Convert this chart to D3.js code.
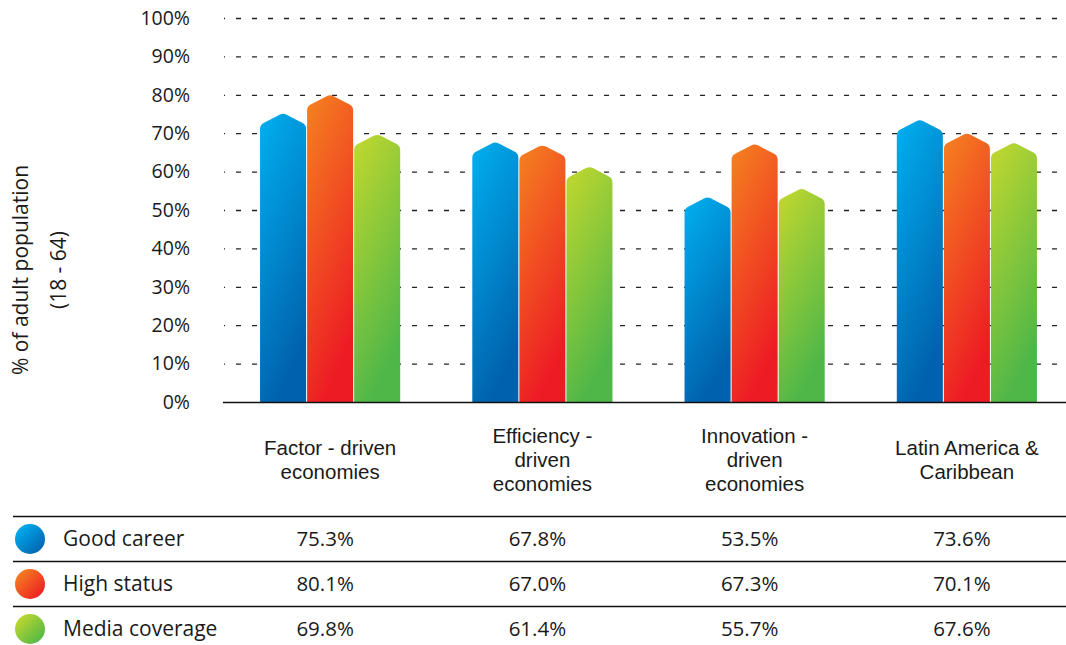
<!DOCTYPE html>
<html><head><meta charset="utf-8">
<script src="https://cdn.jsdelivr.net/npm/d3@7"></script>
<style>
body{margin:0;background:#fff;}
text{font-family:"Open Sans","Noto Sans",sans-serif;fill:#1a1a1a;}
text.cat{font-family:"Liberation Sans",Arial,sans-serif;}
</style></head>
<body><svg id="chart" width="1066" height="645"></svg>
<script>
const categories = [["Factor - driven","economies"],["Efficiency -","driven","economies"],["Innovation -","driven","economies"],["Latin America &","Caribbean"]];
const categoryKeys = ["Factor","Efficiency","Innovation","Latin"];
const series = ["Good career","High status","Media coverage"];
const goodCareer = [75.3, 67.8, 53.5, 73.6];
const highStatus = [80.1, 67.0, 67.3, 70.1];
const mediaCoverage = [69.8, 61.4, 55.7, 67.6];
const yTicks = [0,10,20,30,40,50,60,70,80,90,100];
const tableLabels = [["75.3%","67.8%","53.5%","73.6%"],["80.1%","67.0%","67.3%","70.1%"],["69.8%","61.4%","55.7%","67.6%"]];
const values = [goodCareer, highStatus, mediaCoverage];
const gradColors = [["#00b0ef","#0062ae"],["#f58220","#ed1c24"],["#c3d82e","#4fb748"]];

const svg = d3.select("#chart");
const defs = svg.append("defs");
gradColors.forEach((c,i)=>{
  const g = defs.append("linearGradient").attr("id","g"+i)
    .attr("x1",0).attr("y1",0).attr("x2",0.35).attr("y2",1);
  g.append("stop").attr("offset","0%").attr("stop-color",c[0]);
  g.append("stop").attr("offset","100%").attr("stop-color",c[1]);
  const gc = defs.append("linearGradient").attr("id","c"+i)
    .attr("x1",0.1).attr("y1",0.1).attr("x2",0.9).attr("y2",0.9);
  gc.append("stop").attr("offset","0%").attr("stop-color",c[0]);
  gc.append("stop").attr("offset","100%").attr("stop-color",c[1]);
});

const y = d3.scaleLinear().domain([0,100]).range([402,18]);
const x0 = d3.scaleBand().domain(categoryKeys).range([224,1073]).paddingInner(0.335).paddingOuter(0.1675);
const x1 = d3.scaleBand().domain(series).range([0, x0.bandwidth()]);

// gridlines
svg.append("g").selectAll("line").data(yTicks.filter(d=>d>0)).join("line")
  .attr("x1",224).attr("x2",1066).attr("y1",d=>y(d)+0.5).attr("y2",d=>y(d)+0.5)
  .attr("stroke","#222").attr("stroke-width",1.3).attr("stroke-dasharray","5,11").attr("stroke-dashoffset",4);

// y axis labels
const yAxis = d3.axisLeft(y).tickValues(yTicks).tickFormat(d=>d+"%").tickSize(0).tickPadding(0);
const ya = svg.append("g").attr("transform","translate(190,0)").call(yAxis);
ya.select(".domain").remove();
ya.selectAll("text").style("font-size","19.5px").style("fill","#1a1a1a").style("font-family","'Open Sans',sans-serif");

// bars
function roofPath(L,R,A,B){
  const h=12, r=4, M=(L+R)/2, S=A+h;
  const dx=M-L, dy=h, len=Math.hypot(dx,dy), ux=dx/len, uy=dy/len;
  return `M${L},${B} L${L},${S+r} Q${L},${S} ${L+ux*r},${S-uy*r} `+
    `L${M-ux*r},${A+uy*r} Q${M},${A} ${M+ux*r},${A+uy*r} `+
    `L${R-ux*r},${S-uy*r} Q${R},${S} ${R},${S+r} L${R},${B} Z`;
}
const groups = svg.append("g").selectAll("g").data(categoryKeys).join("g")
  .attr("transform",d=>`translate(${x0(d)},0)`);
groups.selectAll("path").data((d,ci)=>series.map((s,si)=>({s,si,v:values[si][ci]}))).join("path")
  .attr("d",d=>roofPath(x1(d.s)+0.5, x1(d.s)+x1.bandwidth()-0.5, y(d.v), y(0)))
  .attr("fill",d=>`url(#g${d.si})`);

// baseline
svg.append("line").attr("x1",223).attr("x2",1066).attr("y1",402.5).attr("y2",402.5)
  .attr("stroke","#111").attr("stroke-width",1.6);

// y title
const yt = svg.append("text").attr("transform","translate(0,270) rotate(-90)")
  .attr("text-anchor","middle").style("font-size","21px");
yt.append("tspan").attr("x",0).attr("y",28).text("% of adult population");
yt.append("tspan").attr("x",0).attr("y",66).text("(18 - 64)");

// category labels
categoryKeys.forEach((k,i)=>{
  const lines = categories[i];
  const startY = lines.length===3 ? 443 : 455;
  lines.forEach((l,j)=>svg.append("text").attr("class","cat").attr("text-anchor","middle").style("font-size","20.5px")
    .attr("x",x0(k)+x0.bandwidth()/2).attr("y",startY+j*24).text(l));
});

// table
const rowY = [539,584,629];
[516,561,606].forEach(ly=>svg.append("line").attr("x1",13).attr("x2",1066).attr("y1",ly+0.5).attr("y2",ly+0.5).attr("stroke","#111").attr("stroke-width",1.3));
series.forEach((s,si)=>{
  svg.append("circle").attr("cx",30).attr("cy",rowY[si]).attr("r",15).attr("fill",`url(#c${si})`);
  svg.append("text").attr("x",63).attr("y",rowY[si]).attr("dy","0.35em").style("font-size","21px").text(s);
  categoryKeys.forEach((k,ci)=>{
    svg.append("text").attr("x",x0(k)+x0.bandwidth()/2-5).attr("y",rowY[si]).attr("dy","0.35em")
      .attr("text-anchor","middle").style("font-size","20.5px").text(tableLabels[si][ci]);
  });
});
</script></body></html>
